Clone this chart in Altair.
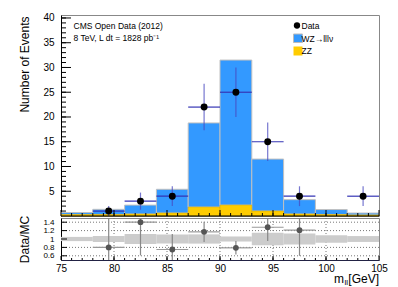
import altair as alt
import pandas as pd

# ---- data ----
bin_lo = [75, 78, 81, 84, 87, 90, 93, 96, 99, 102]
bin_hi = [78, 81, 84, 87, 90, 93, 96, 99, 102, 105]
zz = [0.3, 0.3, 0.4, 0.6, 1.8, 2.2, 1.0, 0.4, 0.3, 0.2]
mc_total = [0.7, 1.35, 2.2, 5.4, 18.8, 31.5, 11.5, 3.3, 1.3, 0.6]
mc_unc = [0.05, 0.07, 0.12, 0.11, 0.11, 0.06, 0.15, 0.13, 0.09, 0.07]

data_x = [79.5, 82.5, 85.5, 88.5, 91.5, 94.5, 97.5, 103.5]
data_lo = [78, 81, 84, 87, 90, 93, 96, 102]
data_hi = [81, 84, 87, 90, 93, 96, 99, 105]
data_n = [1, 3, 4, 22, 25, 15, 4, 4]
data_err = [1.0, 1.73, 2.0, 4.69, 5.0, 3.87, 2.0, 2.0]

ratio_x = [79.5, 82.5, 85.5, 88.5, 91.5, 94.5, 97.5]
ratio_lo = [78, 81, 84, 87, 90, 93, 96]
ratio_hi = [81, 84, 87, 90, 93, 96, 99]
ratio_y = [0.80, 1.40, 0.75, 1.17, 0.79, 1.28, 1.21]
ratio_err = [0.74, 0.79, 0.37, 0.24, 0.16, 0.33, 0.61]

x_labels = [75, 80, 85, 90, 95, 100, 105]
y_labels = [5, 10, 15, 20, 25, 30, 35, 40]
r_labels = [0.6, 0.8, 1.0, 1.2, 1.4]
r_grid = [0.6, 0.8, 1.2, 1.4]
x_grid = [80, 85, 90, 95, 100]

FONT = "Liberation Sans"
W, H1, H2 = 318, 201, 42
R_MIN, R_MAX = 0.5, 1.5

hist = pd.DataFrame({"lo": bin_lo, "hi": bin_hi, "zz": zz, "tot": mc_total,
                     "blo": [1 - u for u in mc_unc], "bhi": [1 + u for u in mc_unc]})
pts = pd.DataFrame({"x": data_x, "lo": data_lo, "hi": data_hi, "n": data_n,
                    "elo": [n - e for n, e in zip(data_n, data_err)],
                    "ehi": [n + e for n, e in zip(data_n, data_err)]})
# ratio error bars limited to the panel's range (they run off the panel in the reference)
rat = pd.DataFrame({"x": ratio_x, "lo": ratio_lo, "hi": ratio_hi, "r": ratio_y,
                    "elo": [max(R_MIN, r - e) for r, e in zip(ratio_y, ratio_err)],
                    "ehi": [min(R_MAX, r + e) for r, e in zip(ratio_y, ratio_err)]})

xs = alt.Scale(domain=[75, 105], nice=False, zero=False)
ys = alt.Scale(domain=[0, 40.6], nice=False)
rs = alt.Scale(domain=[R_MIN, R_MAX], nice=False, zero=False)

y_main_axis = alt.Axis(values=y_labels, ticks=False, grid=False, labelPadding=7,
                       labelFontSize=10, labelColor="#000", domainColor="#000",
                       title="Number of Events", titleFontSize=12, titleFontWeight="normal",
                       titleColor="#000", titleAngle=270, titleAlign="right",
                       titleBaseline="bottom", titleX=-30, titleY=1)

def X(f):
    return alt.X(f, type="quantitative", scale=xs, axis=None)

def Y(f):
    return alt.Y(f, type="quantitative", scale=ys, axis=y_main_axis)

wz_bars = alt.Chart(hist).mark_rect(color="#3399ff", stroke="#c0c0c0", strokeWidth=1).encode(
    x=X("lo"), x2="hi", y=Y("zz"), y2="tot")
zz_bars = alt.Chart(hist).mark_rect(color="#ffcc00", stroke="#d0a800", strokeWidth=0.5).encode(
    x=X("lo"), x2="hi", y=Y("zz"), y2=alt.datum(0))
vbar = alt.Chart(pts).mark_rule(color="#4a4ac0", opacity=0.75, strokeWidth=1.2).encode(
    x=X("x"), y=Y("elo"), y2="ehi")
hbar = alt.Chart(pts).mark_rule(color="#3535b5", strokeWidth=1.2).encode(
    x=X("lo"), x2="hi", y=Y("n"))
dots = alt.Chart(pts).mark_circle(color="#000", size=48, opacity=1).encode(x=X("x"), y=Y("n"))

ytick_minor = pd.DataFrame({"v": list(range(1, 41))})
ytick_major = pd.DataFrame({"v": y_labels})
xtick_minor = pd.DataFrame({"v": list(range(76, 105))})
xtick_major = pd.DataFrame({"v": x_labels})

ymin_t = alt.Chart(ytick_minor).mark_rule(color="#000").encode(
    y=Y("v"), x=alt.value(0), x2=alt.value(5))
ymaj_t = alt.Chart(ytick_major).mark_rule(color="#000").encode(
    y=Y("v"), x=alt.value(0), x2=alt.value(10))
xmin_t = alt.Chart(xtick_minor).mark_rule(color="#000").encode(
    x=X("v"), y=alt.value(H1), y2=alt.value(H1 - 3))
xmaj_t = alt.Chart(xtick_major).mark_rule(color="#000").encode(
    x=X("v"), y=alt.value(H1), y2=alt.value(H1 - 6))
base_line = alt.Chart(pd.DataFrame({"a": [0]})).mark_rule(color="#000", strokeWidth=1).encode(
    x=alt.value(0), x2=alt.value(W), y=alt.value(H1))

def txt(s, x, y, size=8.5, align="left", baseline="middle"):
    return alt.Chart(pd.DataFrame({"t": [s]})).mark_text(
        align=align, baseline=baseline, font=FONT, fontSize=size, color="#000").encode(
        text="t:N", x=alt.value(x), y=alt.value(y))

cms1 = txt("CMS Open Data (2012)", 12.5, 10.5)
cms2 = txt("8 TeV, L dt = 1828 pb⁻¹", 12.5, 23)

leg_dot = alt.Chart(pd.DataFrame({"a": [0]})).mark_circle(color="#000", size=40, opacity=1).encode(
    x=alt.value(236), y=alt.value(10.5))
leg_wz = alt.Chart(pd.DataFrame({"a": [0]})).mark_rect(color="#3399ff", stroke="#bbbbbb").encode(
    x=alt.value(232.5), x2=alt.value(241.5), y=alt.value(19), y2=alt.value(27.5))
leg_zz = alt.Chart(pd.DataFrame({"a": [0]})).mark_rect(color="#ffcc00").encode(
    x=alt.value(232.5), x2=alt.value(241.5), y=alt.value(31.5), y2=alt.value(40.5))
leg_t1 = txt("Data", 240.5, 10.5)
leg_t2 = txt("WZ→lllν", 240.5, 23.5)
leg_t3 = txt("ZZ", 240.5, 36)

main = alt.layer(wz_bars, zz_bars, vbar, hbar, dots, ymin_t, ymaj_t, xmin_t, xmaj_t, base_line,
                 cms1, cms2, leg_dot, leg_wz, leg_zz, leg_t1, leg_t2, leg_t3).properties(
    width=W, height=H1)

# ---- ratio panel ----
x_r_axis = alt.Axis(values=x_labels, ticks=False, grid=False, labelPadding=3,
                    labelFlush=False, labelFontSize=10, labelColor="#000",
                    domainColor="#222244", title="", titlePadding=0)
y_r_axis = alt.Axis(values=r_labels, ticks=False, grid=False, labelPadding=7,
                    format=".1~f", labelOverlap=False, labelFontSize=8,
                    labelColor="#000", domainColor="#000",
                    title="Data/MC", titleFontSize=12, titleFontWeight="normal",
                    titleColor="#000", titleAngle=270, titleAlign="center",
                    titleBaseline="bottom", titleX=-30, titleY=H2 / 2)

def RX(f):
    return alt.X(f, type="quantitative", scale=xs, axis=x_r_axis)

def RY(f):
    return alt.Y(f, type="quantitative", scale=rs, axis=y_r_axis)

hgrid = alt.Chart(pd.DataFrame({"v": r_grid})).mark_rule(
    color="#777", strokeDash=[1, 2], strokeWidth=1).encode(y=RY("v"))
vgrid = alt.Chart(pd.DataFrame({"v": x_grid})).mark_rule(
    color="#777", strokeDash=[1, 2], strokeWidth=1).encode(x=RX("v"))
band = alt.Chart(hist).mark_rect(color="#cccccc").encode(
    x=RX("lo"), x2="hi", y=RY("blo"), y2="bhi")
r_v = alt.Chart(rat).mark_rule(color="#888", strokeWidth=1.2).encode(
    x=RX("x"), y=RY("elo"), y2="ehi")
r_h = alt.Chart(rat).mark_rule(color="#999", strokeWidth=1.2).encode(
    x=RX("lo"), x2="hi", y=RY("r"))
r_pts = alt.Chart(rat).mark_circle(color="#555", size=34, opacity=1).encode(
    x=RX("x"), y=RY("r"))

rtick_major = pd.DataFrame({"v": r_labels})
r_yt = alt.Chart(rtick_major).mark_rule(color="#000").encode(
    y=RY("v"), x=alt.value(0), x2=alt.value(6))
r_xmin = alt.Chart(xtick_minor).mark_rule(color="#000").encode(
    x=RX("v"), y=alt.value(H2), y2=alt.value(H2 - 2))
r_xmaj = alt.Chart(xtick_major).mark_rule(color="#000").encode(
    x=RX("v"), y=alt.value(H2), y2=alt.value(H2 - 4))

xt_unit = txt("[GeV]", W, H2 + 23, size=12, align="right", baseline="alphabetic")
xt_sub = txt("ll", W - 31, H2 + 25, size=8, align="right", baseline="alphabetic")
xt_m = txt("m", W - 35, H2 + 23, size=12, align="right", baseline="alphabetic")

ratio = alt.layer(hgrid, vgrid, band, r_v, r_h, r_pts, r_yt, r_xmin, r_xmaj,
                  xt_unit, xt_sub, xt_m).properties(width=W, height=H2)

chart = alt.vconcat(main, ratio, spacing=2, bounds="flush").properties(
    padding={"left": 9, "top": 4, "right": 0, "bottom": 0}
).configure_view(stroke="#888", strokeWidth=1).configure_axis(
    labelFont=FONT, titleFont=FONT)

chart.save("out.html", embed_options={"renderer": "svg", "actions": False})
